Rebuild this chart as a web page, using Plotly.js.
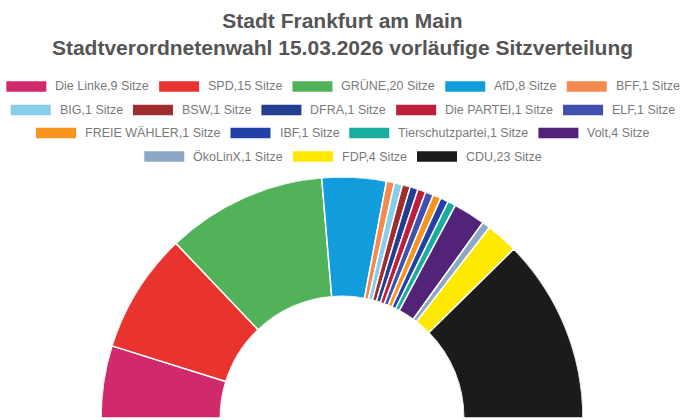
<!DOCTYPE html>
<html>
<head>
<meta charset="utf-8">
<script src="https://cdn.plot.ly/plotly-3.0.1.min.js"></script>
<style>html,body{margin:0;padding:0;background:#fff;}#chart{width:685px;height:420px;}</style>
</head>
<body>
<div id="chart"></div>
<script>
const parties = ["Die Linke","SPD","GRÜNE","AfD","BFF","BIG","BSW","DFRA","Die PARTEI","ELF","FREIE WÄHLER","IBF","Tierschutzpartei","Volt","ÖkoLinX","FDP","CDU"];
const seats = [9,15,20,8,1,1,1,1,1,1,1,1,1,4,1,4,23];
const colors = ["#d02a6b","#e8332f","#52b25a","#119ddb","#f58a4e","#88cdea","#a02d2d","#233d91","#bd1e3c","#3f50ae","#f7941e","#2141a8","#19ada2","#522379","#8ea7c6","#ffe900","#1b1b1b"];
const legendRow = [0,0,0,0,0,1,1,1,1,1,2,2,2,2,3,3,3];
const labels = parties.map((p,i)=> p + "," + seats[i] + " Sitze");

const W = 685, H = 420;
const total = seats.reduce((a,b)=>a+b,0);
const traces = [];
let cum = 0;
parties.forEach((p,i)=>{
  const w = seats[i]/total*180;
  traces.push({
    type:'barpolar',
    name: labels[i],
    r:[1], theta:[cum + w/2], width:[w],
    marker:{color:colors[i], line:{color:'#ffffff', width:1.5}},
    showlegend:false,
    hoverinfo:'name'
  });
  cum += w;
});

// Chart.js-style centered legend rows (boxes + labels)
const FONT = 'Liberation Sans, Arial, sans-serif';
const FS = 12.5;
const ctx = document.createElement('canvas').getContext('2d');
ctx.font = FS + 'px "Liberation Sans", Arial, sans-serif';
const rowY = [86.5, 110, 133, 156.5];
const BOXW = 40, BOXH = 10.5, GAP = 8, SEP = 11;
const shapes = [], annotations = [];
for (let r = 0; r < rowY.length; r++) {
  const idx = labels.map((_,i)=>i).filter(i=>legendRow[i]===r);
  const widths = idx.map(i=>ctx.measureText(labels[i]).width);
  const rowW = widths.reduce((a,b)=>a+b,0) + idx.length*(BOXW+GAP) + (idx.length-1)*SEP;
  let x = W/2 - rowW/2;
  idx.forEach((i,k)=>{
    shapes.push({type:'rect', xref:'paper', yref:'paper',
      x0:x/W, x1:(x+BOXW)/W, y0:1-(rowY[r]+BOXH/2)/H, y1:1-(rowY[r]-BOXH/2)/H,
      fillcolor:colors[i], line:{width:0}});
    annotations.push({xref:'paper', yref:'paper', x:(x+BOXW+GAP-1)/W, y:1-rowY[r]/H,
      xanchor:'left', yanchor:'middle', showarrow:false, text:labels[i],
      font:{family:FONT, size:FS, color:'#7a7a7a'}});
    x += BOXW + GAP + widths[k] + SEP;
  });
}

const layout = {
  width:W, height:H,
  margin:{l:0,r:0,t:0,b:0},
  paper_bgcolor:'#ffffff',
  title:{text:'Stadt Frankfurt am Main<br>Stadtverordnetenwahl 15.03.2026 vorläufige Sitzverteilung',
         font:{family:FONT, size:21, color:'#555', weight:'bold'},
         x:0.5, xanchor:'center', y:1-28/H, yanchor:'top', yref:'container'},
  polar:{
    domain:{x:[101/W, 583/W], y:[2/H, 243/H]},
    sector:[0,180],
    hole:0.505,
    bgcolor:'rgba(0,0,0,0)',
    radialaxis:{range:[0,1], visible:false},
    angularaxis:{visible:false, direction:'clockwise', rotation:180}
  },
  bargap:0,
  showlegend:false,
  shapes:shapes,
  annotations:annotations
};

Plotly.newPlot('chart', traces, layout, {displayModeBar:false, staticPlot:true});
</script>
</body>
</html>
